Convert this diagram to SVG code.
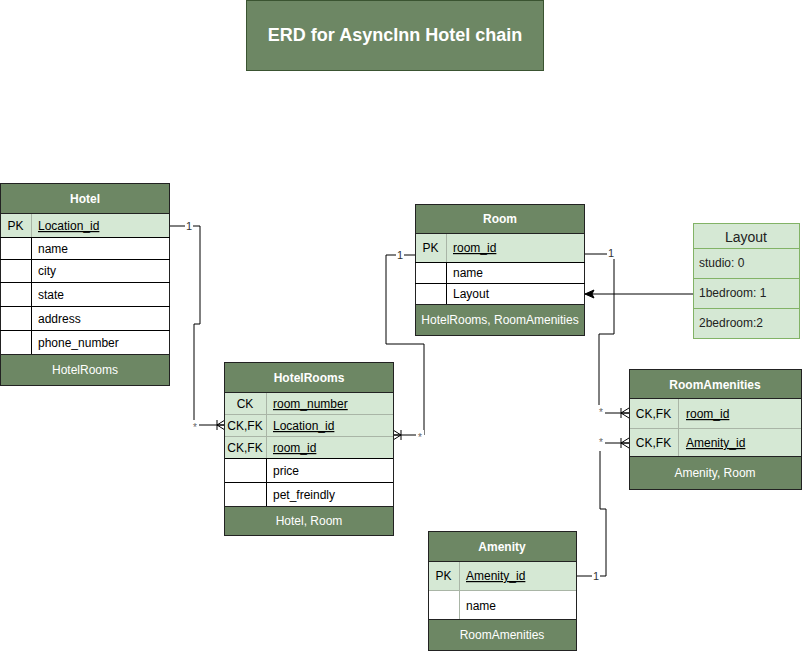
<svg xmlns="http://www.w3.org/2000/svg" width="802" height="651" viewBox="0 0 802 651">
<style>
text{font-family:"Liberation Sans",Arial,sans-serif;}
.hd{fill:#6d8764;stroke:#222;stroke-width:1;}
.pk{fill:#d5e8d4;stroke:none;}
.box{fill:#fff;stroke:#222;stroke-width:1;}
.ln{stroke:#000;stroke-width:1;fill:none;}
.gl{stroke:#a9b5a6;stroke-width:1;fill:none;}
.ht{fill:#fff;font-size:12px;font-weight:bold;text-anchor:middle;}
.ft{fill:#fff;font-size:12px;text-anchor:middle;}
.k{fill:#000;font-size:12px;text-anchor:middle;}
.f{fill:#000;font-size:12px;}
.u{text-decoration:underline;}
.edge{stroke:#000;stroke-width:1;fill:none;}
.lbl1{font-size:11px;fill:#333;text-anchor:middle;}
.lbls{font-size:10px;fill:#666;text-anchor:middle;}
.lg{fill:#d5e8d4;stroke:#82b366;stroke-width:1;}
.lgt{fill:#222;font-size:12px;}
</style>
<defs>
<marker id="crow" markerUnits="userSpaceOnUse" markerWidth="14" markerHeight="14" viewBox="-10 -7 12 14" refX="0" refY="0" orient="auto">
<path d="M-8,0 L0,-5 M-8,0 L0,5 M-8,-5 L-8,5 M-8,0 L0,0" stroke="#000" stroke-width="1" fill="none"/>
</marker>
<marker id="arr" markerUnits="userSpaceOnUse" markerWidth="12" markerHeight="12" viewBox="-10 -6 12 12" refX="0" refY="0" orient="auto">
<path d="M0,0 L-9,-4 L-7,0 L-9,4 Z" fill="#000" stroke="#000" stroke-width="1"/>
</marker>
</defs>

<g id="title">
<rect x="246.5" y="0.5" width="297" height="70" fill="#6d8764" stroke="#3a5431"/>
<text x="395" y="41" fill="#fff" font-size="18" font-weight="bold" text-anchor="middle">ERD for AsyncInn Hotel chain</text>
</g>

<g id="connectors">
<path class="edge" d="M170,226 H200 V324 H194 V425 H225" marker-end="url(#crow)"/>
<path class="edge" d="M415,255 H386 V344 H424 V435 H393" marker-end="url(#crow)"/>
<path class="edge" d="M584,254 H614 V334 H599 V413 H629" marker-end="url(#crow)"/>
<path class="edge" d="M577,576 H606 V509 H600 V443 H629" marker-end="url(#crow)"/>
<path class="edge" d="M693,294 H585" marker-end="url(#arr)"/>
<rect x="185" y="219" width="8" height="13" fill="#fff"/>
<text class="lbl1" x="189" y="230">1</text>
<rect x="191" y="420" width="8" height="12" fill="#fff"/>
<text class="lbls" x="195" y="431">*</text>
<rect x="396" y="248" width="8" height="13" fill="#fff"/>
<text class="lbl1" x="400" y="259">1</text>
<rect x="416" y="430" width="8" height="12" fill="#fff"/>
<text class="lbls" x="420" y="441">*</text>
<rect x="607" y="246" width="8" height="13" fill="#fff"/>
<text class="lbl1" x="611" y="257">1</text>
<rect x="597" y="405" width="8" height="13" fill="#fff"/>
<text class="lbls" x="601" y="416">*</text>
<rect x="592" y="569" width="8" height="13" fill="#fff"/>
<text class="lbl1" x="596" y="580">1</text>
<rect x="597" y="435" width="8" height="16" fill="#fff"/>
<text class="lbls" x="601" y="446">*</text>
</g>

<g id="Hotel">
<rect class="box" x="0.5" y="183.5" width="169" height="202"/>
<rect class="pk" x="1" y="214" width="168" height="23"/>
<rect class="hd" x="0.5" y="183.5" width="169" height="30"/>
<rect class="hd" x="0.5" y="354.5" width="169" height="31"/>
<line class="gl" x1="31.5" y1="214" x2="31.5" y2="237"/>
<line class="ln" x1="31.5" y1="237" x2="31.5" y2="354"/>
<line class="ln" x1="0" y1="237.5" x2="170" y2="237.5"/>
<line class="ln" x1="0" y1="259.5" x2="170" y2="259.5"/>
<line class="ln" x1="0" y1="282.5" x2="170" y2="282.5"/>
<line class="ln" x1="0" y1="306.5" x2="170" y2="306.5"/>
<line class="ln" x1="0" y1="330.5" x2="170" y2="330.5"/>
<text class="ht" x="85" y="203">Hotel</text>
<text class="k" x="15.5" y="230">PK</text>
<text class="f u" x="38" y="230">Location_id</text>
<text class="f" x="38" y="253">name</text>
<text class="f" x="38" y="275">city</text>
<text class="f" x="38" y="299">state</text>
<text class="f" x="38" y="323">address</text>
<text class="f" x="38" y="347">phone_number</text>
<text class="ft" x="85" y="374">HotelRooms</text>
</g>

<g id="HotelRooms">
<rect class="box" x="224.5" y="362.5" width="169" height="173"/>
<rect class="pk" x="225" y="392" width="168" height="67"/>
<rect class="hd" x="224.5" y="362.5" width="169" height="30"/>
<rect class="hd" x="224.5" y="506.5" width="169" height="29"/>
<line class="gl" x1="225" y1="414.5" x2="393" y2="414.5"/>
<line class="gl" x1="225" y1="436.5" x2="393" y2="436.5"/>
<line class="gl" x1="266.5" y1="393" x2="266.5" y2="459"/>
<line class="ln" x1="225" y1="458.5" x2="393" y2="458.5"/>
<line class="ln" x1="225" y1="482.5" x2="393" y2="482.5"/>
<line class="ln" x1="266.5" y1="459" x2="266.5" y2="506"/>
<text class="ht" x="309" y="382">HotelRooms</text>
<text class="k" x="245" y="408">CK</text>
<text class="f u" x="273" y="408">room_number</text>
<text class="k" x="245" y="430">CK,FK</text>
<text class="f u" x="273" y="430">Location_id</text>
<text class="k" x="245" y="452">CK,FK</text>
<text class="f u" x="273" y="452">room_id</text>
<text class="f" x="273" y="475">price</text>
<text class="f" x="273" y="499">pet_freindly</text>
<text class="ft" x="309" y="525">Hotel, Room</text>
</g>

<g id="Room">
<rect class="box" x="415.5" y="204.5" width="169" height="131"/>
<rect class="pk" x="416" y="234" width="168" height="29"/>
<rect class="hd" x="415.5" y="204.5" width="169" height="29"/>
<rect class="hd" x="415.5" y="304.5" width="169" height="31"/>
<line class="gl" x1="446.5" y1="234" x2="446.5" y2="262"/>
<line class="ln" x1="415" y1="262.5" x2="585" y2="262.5"/>
<line class="ln" x1="415" y1="283.5" x2="585" y2="283.5"/>
<line class="ln" x1="446.5" y1="263" x2="446.5" y2="304"/>
<text class="ht" x="500" y="223">Room</text>
<text class="k" x="430.5" y="252">PK</text>
<text class="f u" x="453" y="252">room_id</text>
<text class="f" x="453" y="277">name</text>
<text class="f" x="453" y="298">Layout</text>
<text class="ft" x="500" y="324">HotelRooms, RoomAmenities</text>
</g>

<g id="Layout">
<rect class="lg" x="693.5" y="223.5" width="106" height="115"/>
<line class="lg" x1="694" y1="248.5" x2="799" y2="248.5"/>
<line class="lg" x1="694" y1="278.5" x2="799" y2="278.5"/>
<line class="lg" x1="694" y1="308.5" x2="799" y2="308.5"/>
<text x="746" y="242" fill="#222" font-size="14" text-anchor="middle">Layout</text>
<text class="lgt" x="699" y="267">studio: 0</text>
<text class="lgt" x="699" y="297">1bedroom: 1</text>
<text class="lgt" x="699" y="327">2bedroom:2</text>
</g>

<g id="RoomAmenities">
<rect class="box" x="629.5" y="369.5" width="172" height="120"/>
<rect class="pk" x="630" y="399" width="171" height="58"/>
<rect class="hd" x="629.5" y="369.5" width="172" height="29"/>
<rect class="hd" x="629.5" y="456.5" width="172" height="33"/>
<line class="gl" x1="630" y1="428.5" x2="801" y2="428.5"/>
<line class="gl" x1="678.5" y1="399" x2="678.5" y2="456"/>
<text class="ht" x="715" y="389">RoomAmenities</text>
<text class="k" x="653.5" y="418">CK,FK</text>
<text class="f u" x="686" y="418">room_id</text>
<text class="k" x="653.5" y="447">CK,FK</text>
<text class="f u" x="686" y="447">Amenity_id</text>
<text class="ft" x="715" y="477">Amenity, Room</text>
</g>

<g id="Amenity">
<rect class="box" x="428.5" y="531.5" width="148" height="119"/>
<rect class="pk" x="429" y="561" width="147" height="29"/>
<rect class="hd" x="428.5" y="531.5" width="148" height="30"/>
<rect class="hd" x="428.5" y="619.5" width="148" height="31"/>
<line class="gl" x1="429" y1="590.5" x2="576" y2="590.5"/>
<line class="gl" x1="459.5" y1="562" x2="459.5" y2="619"/>
<text class="ht" x="502" y="551">Amenity</text>
<text class="k" x="443.5" y="580">PK</text>
<text class="f u" x="466" y="580">Amenity_id</text>
<text class="f" x="466" y="610">name</text>
<text class="ft" x="502" y="639">RoomAmenities</text>
</g>
</svg>
